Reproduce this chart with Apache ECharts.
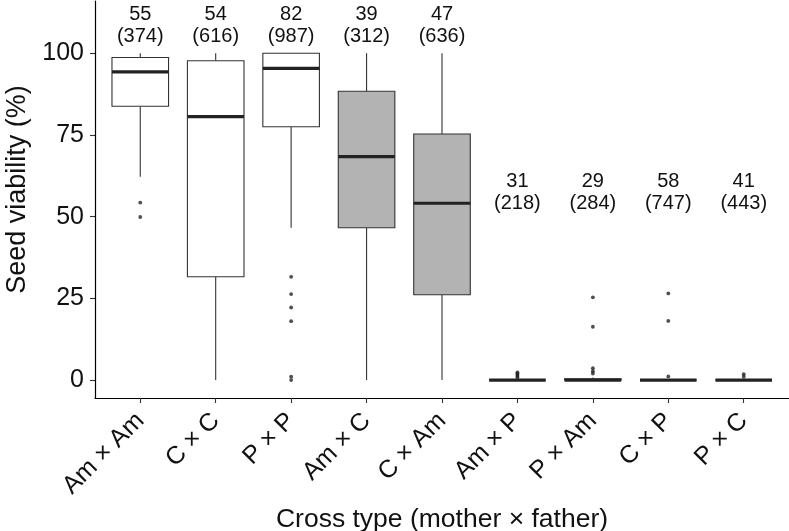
<!DOCTYPE html>
<html>
<head>
<meta charset="utf-8">
<script src="https://cdn.jsdelivr.net/npm/echarts@6/dist/echarts.min.js"></script>
<style>
html,body{margin:0;padding:0;background:#fff;}
#chart{width:789px;height:531px;}
</style>
</head>
<body>
<div id="chart"></div>
<script>
// ---- data ----
var categories = ['Am × Am', 'C × C', 'P × P', 'Am × C', 'C × Am', 'Am × P', 'P × Am', 'C × P', 'P × C'];
var crossKind = ['within', 'within', 'within', 'hybrid', 'hybrid', 'hybrid', 'hybrid', 'hybrid', 'hybrid'];
var whiskerLow  = [62.2, 0,    46.6, 0,    0,    0, 0,   0, 0];
var q1          = [83.8, 31.6, 77.5, 46.6, 26.1, 0, 0,   0, 0];
var median      = [94.3, 80.6, 95.4, 68.4, 54.1, 0, 0,   0, 0];
var q3          = [98.7, 97.7, 100,  88.4, 75.3, 0, 0.4, 0, 0];
var whiskerHigh = [100,  100,  100,  100,  100,  0, 0.8, 0, 0];
var outliers = [
  [54.3, 49.9],
  [],
  [31.6, 26.3, 22.2, 18.0, 1.0, 0.0],
  [],
  [],
  [0.8, 1.2, 1.6, 2.0, 2.3],
  [25.3, 16.3, 3.6, 2.7, 2.0],
  [26.5, 18.1, 1.1],
  [1.8, 1.0]
];
var nPlants = [55, 54, 82, 39, 47, 31, 29, 58, 41];
var nSeeds  = [374, 616, 987, 312, 636, 218, 284, 747, 443];
var yTicks = [0, 25, 50, 75, 100];

// ---- styles / layout constants ----
var FONT = 'Liberation Sans, Arial, Helvetica, sans-serif';
var fillByKind = { within: '#ffffff', hybrid: '#b3b3b3' };
var BOX_WIDTH = 0.75;          // in category units
var LABEL_Y_HIGH = 108.4;      // annotation height for tall groups
var LABEL_Y_LOW = 57.5;        // annotation height for groups near zero
var LINE_COLOR = '#333333';

var boxData = categories.map(function (c, i) {
  return [i, whiskerLow[i], q1[i], median[i], q3[i], whiskerHigh[i]];
});
var outlierData = [];
outliers.forEach(function (arr, i) {
  arr.forEach(function (v) { outlierData.push([i, v]); });
});
var annotData = categories.map(function (c, i) {
  return [i, whiskerHigh[i] > 50 ? LABEL_Y_HIGH : LABEL_Y_LOW, nPlants[i], nSeeds[i]];
});
var catIdx = categories.map(function (c, i) { return i; });

var chart = echarts.init(document.getElementById('chart'), null, { renderer: 'canvas' });
chart.setOption({
  animation: false,
  backgroundColor: '#ffffff',
  textStyle: { fontFamily: FONT },
  grid: { left: 95, right: 0, top: 1, bottom: 133, containLabel: false, outerBoundsMode: 'none' },
  xAxis: {
    type: 'value',
    min: -0.6,
    max: 8.6,
    splitLine: { show: false },
    axisLine: { show: true, onZero: false, lineStyle: { color: '#000', width: 1.2 } },
    axisTick: { show: true, customValues: catIdx, length: 5, lineStyle: { color: LINE_COLOR, width: 1.1 } },
    axisLabel: {
      customValues: catIdx,
      rotate: 45,
      margin: 19,
      fontSize: 25,
      color: '#111',
      fontFamily: FONT,
      formatter: function (v) { return categories[Math.round(v)]; }
    },
    name: 'Cross type (mother × father)',
    nameLocation: 'middle',
    nameGap: 105,
    nameTextStyle: { fontSize: 26.5, color: '#111', fontFamily: FONT }
  },
  yAxis: {
    type: 'value',
    min: -5.5,
    max: 116,
    splitLine: { show: false },
    axisLine: { show: true, onZero: false, lineStyle: { color: '#000', width: 1.2 } },
    axisTick: { show: true, customValues: yTicks, length: 5, lineStyle: { color: LINE_COLOR, width: 1.1 } },
    axisLabel: { customValues: yTicks, fontSize: 25, color: '#111', margin: 11, fontFamily: FONT },
    name: 'Seed viability (%)',
    nameLocation: 'middle',
    nameGap: 64,
    nameTextStyle: { fontSize: 27, color: '#111', fontFamily: FONT, padding: [0, 0, 0, 20] }
  },
  series: [
    {
      type: 'custom',
      name: 'boxes',
      clip: false,
      data: boxData,
      encode: { x: 0, y: [1, 2, 3, 4, 5] },
      renderItem: function (params, api) {
        var i = api.value(0);
        var halfW = api.size([BOX_WIDTH, 0])[0] / 2;
        var pLo = api.coord([i, api.value(1)]);
        var pQ1 = api.coord([i, api.value(2)]);
        var pMed = api.coord([i, api.value(3)]);
        var pQ3 = api.coord([i, api.value(4)]);
        var pHi = api.coord([i, api.value(5)]);
        var x = pMed[0];
        var fill = fillByKind[crossKind[params.dataIndex]];
        var lineStyle = { stroke: LINE_COLOR, lineWidth: 1.1 };
        return {
          type: 'group',
          children: [
            { type: 'line', shape: { x1: x, y1: pQ3[1], x2: x, y2: pHi[1] }, style: lineStyle },
            { type: 'line', shape: { x1: x, y1: pLo[1], x2: x, y2: pQ1[1] }, style: lineStyle },
            { type: 'rect', shape: { x: x - halfW, y: pQ3[1], width: 2 * halfW, height: pQ1[1] - pQ3[1] },
              style: { fill: fill, stroke: LINE_COLOR, lineWidth: 1.1 } },
            { type: 'line', shape: { x1: x - halfW, y1: pMed[1], x2: x + halfW, y2: pMed[1] },
              style: { stroke: '#222', lineWidth: 3.2 } }
          ]
        };
      }
    },
    {
      type: 'scatter',
      name: 'outliers',
      data: outlierData,
      symbol: 'circle',
      symbolSize: 3.8,
      itemStyle: { color: '#222' },
      clip: false
    },
    {
      type: 'custom',
      name: 'counts',
      clip: false,
      data: annotData,
      encode: { x: 0, y: 1 },
      renderItem: function (params, api) {
        var p = api.coord([api.value(0), api.value(1)]);
        return {
          type: 'text',
          x: p[0],
          y: p[1],
          style: {
            text: api.value(2) + '\n(' + api.value(3) + ')',
            fill: '#111',
            fontSize: 20,
            fontFamily: FONT,
            lineHeight: 22,
            align: 'center',
            verticalAlign: 'middle'
          }
        };
      }
    }
  ]
});
</script>
</body>
</html>
